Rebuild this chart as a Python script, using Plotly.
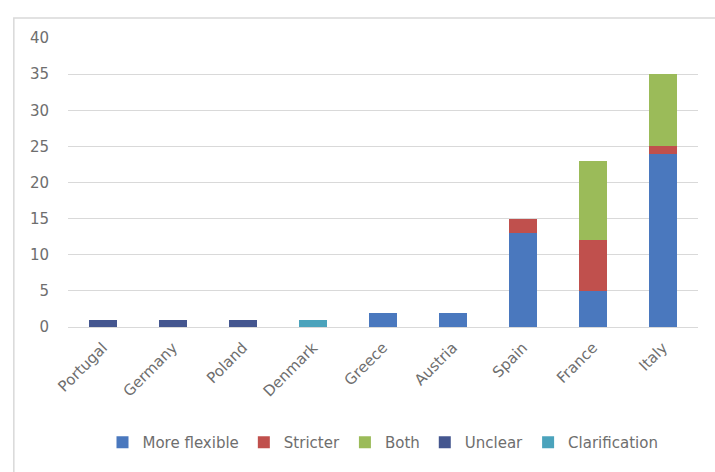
import plotly.graph_objects as go

countries = ["Portugal", "Germany", "Poland", "Denmark", "Greece",
             "Austria", "Spain", "France", "Italy"]
more_flexible = [0, 0, 0, 0, 2, 2, 13, 5, 24]
stricter = [0, 0, 0, 0, 0, 0, 2, 7, 1]
both = [0, 0, 0, 0, 0, 0, 0, 11, 10]
unclear = [1, 1, 1, 0, 0, 0, 0, 0, 0]
clarification = [0, 0, 0, 1, 0, 0, 0, 0, 0]
y_ticks = [0, 5, 10, 15, 20, 25, 30, 35, 40]

series = [
    ("More flexible", more_flexible, "#4A78BE"),
    ("Stricter", stricter, "#C0504D"),
    ("Both", both, "#9BBB59"),
    ("Unclear", unclear, "#44568F"),
    ("Clarification", clarification, "#4BA3BC"),
]

fig = go.Figure()
for name, vals, color in series:
    fig.add_trace(go.Bar(x=countries, y=vals, name=name,
                         marker=dict(color=color, line=dict(width=0))))

font_family = "'DejaVu Sans', sans-serif"
text_color = "#6E6E6E"

fig.update_layout(
    width=715, height=472,
    barmode="stack", bargap=0.61,
    paper_bgcolor="white", plot_bgcolor="white",
    margin=dict(l=68, r=17, t=38, b=145),
    font=dict(family=font_family, size=15, color=text_color),
    showlegend=True,
    legend=dict(orientation="h", x=0.5, xanchor="center", y=-0.40,
                yanchor="middle", font=dict(size=15, color=text_color),
                itemwidth=30, itemclick=False, traceorder="normal"),
    xaxis=dict(tickangle=-45, showgrid=False, showline=False, ticks="",
               ticklabelstandoff=8,
               tickfont=dict(size=15, color=text_color)),
    yaxis=dict(range=[0, 40], tickvals=y_ticks, showgrid=True,
               gridcolor="#D9D9D9", gridwidth=1, zeroline=True,
               zerolinecolor="#D9D9D9", zerolinewidth=1, ticks="",
               ticklabelstandoff=18,
               tickfont=dict(size=15, color=text_color)),
    shapes=[dict(type="rect", xref="paper", yref="paper",
                 x0=-0.086, x1=1.2, y0=-0.7, y1=1.069,
                 line=dict(color="#D9D9D9", width=1.5),
                 fillcolor="rgba(0,0,0,0)", layer="below")],
)

fig.write_html("out.html")
